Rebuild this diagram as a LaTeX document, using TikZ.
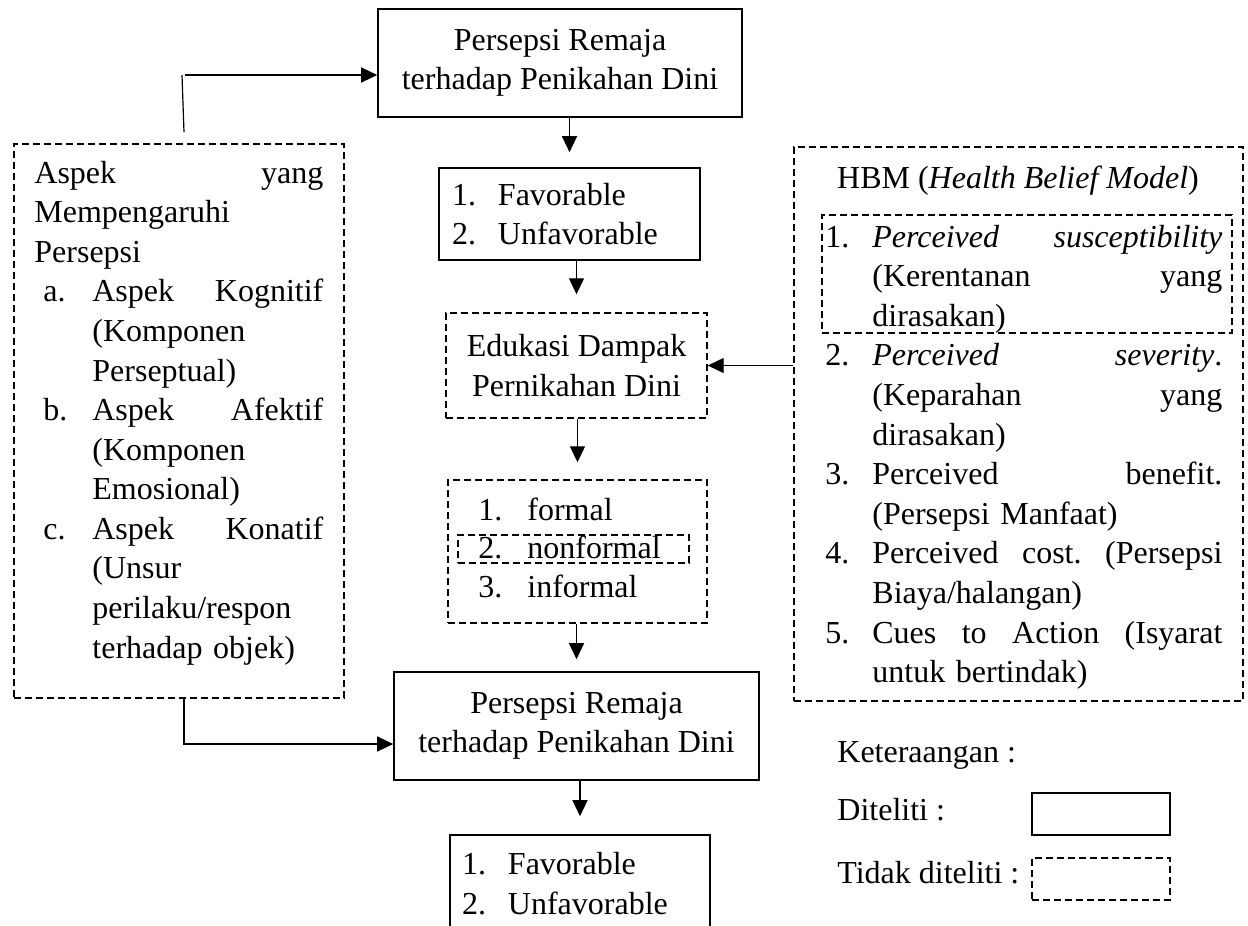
\documentclass[tikz,border=0pt]{standalone}
\usepackage{fontspec}
\setmainfont{Liberation Serif}
\usetikzlibrary{positioning,arrows.meta}

\newcommand{\butir}[2][24.5pt]{\makebox[#1][l]{#2}}
\newcommand{\lanjut}[1][24.5pt]{\hspace*{#1}}

\begin{document}
\begin{tikzpicture}[x=0.5pt,y=-0.5pt,
    font=\fontsize{16}{19.8}\selectfont,
    kotak/.style={draw,line width=0.8pt,inner sep=0pt},
    kotakputus/.style={draw,line width=0.7pt,dash pattern=on 3.5pt off 2pt,inner sep=0pt},
    teks/.style={inner sep=0pt,align=left},
    panah/.style={line width=0.6pt,-{Triangle[length=8pt,width=7.5pt]}}]
    \useasboundingbox (0,0) rectangle (1248,926);
    \clip (0,0) rectangle (1248,926);
    %middle column
    \node[kotak,minimum width=182pt,minimum height=54pt,align=center] (persepsiA) at (560,63) {Persepsi Remaja\\terhadap Penikahan Dini};
    \node[kotak,minimum width=130.5pt,minimum height=46pt,text width=117.5pt,inner xsep=6.5pt,align=left] (favA) at (569.5,214) {\butir[23pt]{1.}Favorable\\\butir[23pt]{2.}Unfavorable};
    \node[kotakputus,minimum width=130.5pt,minimum height=52.5pt,align=center] (edukasi) at (576.5,365.5) {Edukasi Dampak\\Pernikahan Dini};
    \node[kotakputus,minimum width=129.5pt,minimum height=71.5pt] (jalur) at (577.5,551.5) {};
    \node[teks,anchor=base west] (formal) at (478,520) {\butir{1.}formal};
    \node[teks,anchor=base west] (nonformal) at (478,558) {\butir{2.}nonformal};
    \node[teks,anchor=base west] (informal) at (478,597) {\butir{3.}informal};
    \node[kotakputus,minimum width=115.5pt,minimum height=14pt] (kotakNonformal) at (573.5,549) {};
    \node[kotak,minimum width=182.5pt,minimum height=54pt,align=center] (persepsiB) at (576.5,726) {Persepsi Remaja\\terhadap Penikahan Dini};
    \node[kotak,minimum width=130pt,minimum height=48.75pt,text width=118pt,inner xsep=6pt,align=left] (favB) at (580,883.75) {\butir[23pt]{1.}Favorable\\\butir[23pt]{2.}Unfavorable};
    %left column
    \node[kotakputus,minimum width=165pt,minimum height=277pt] (aspek) at (179,421) {};
    \node[teks,text width=144.5pt,anchor=base west] (aspekTeks) at (34,183) {Aspek\hfill yang\\
        Mempengaruhi\\
        Persepsi\\
        \hspace*{4.5pt}\butir{a.}Aspek\hfill Kognitif\\
        \lanjut[29pt](Komponen\\
        \lanjut[29pt]Perseptual)\\
        \hspace*{4.5pt}\butir{b.}Aspek\hfill Afektif\\
        \lanjut[29pt](Komponen\\
        \lanjut[29pt]Emosional)\\
        \hspace*{4.5pt}\butir{c.}Aspek\hfill Konatif\\
        \lanjut[29pt](Unsur\\
        \lanjut[29pt]perilaku/respon\\
        \lanjut[29pt]terhadap objek)};
    %right column
    \node[kotakputus,minimum width=224.5pt,minimum height=277pt] (hbm) at (1018.5,424) {};
    \node[teks,anchor=base] (hbmJudul) at (1018,188) {HBM (\textit{Health Belief Model})};
    \node[kotakputus,minimum width=205pt,minimum height=59pt] (kotakRentan) at (1027,274) {};
    \node[teks,text width=198.5pt,anchor=base west] (hbmTeks) at (825,247) {\butir[23.5pt]{1.}\textit{Perceived}\hfill\textit{susceptibility}\\
        \lanjut[23.5pt](Kerentanan\hfill yang\\
        \lanjut[23.5pt]dirasakan)\\
        \butir[23.5pt]{2.}\textit{Perceived}\hfill\textit{severity}.\\
        \lanjut[23.5pt](Keparahan\hfill yang\\
        \lanjut[23.5pt]dirasakan)\\
        \butir[23.5pt]{3.}Perceived\hfill benefit.\\
        \lanjut[23.5pt](Persepsi Manfaat)\\
        \butir[23.5pt]{4.}Perceived\hfill cost.\hfill (Persepsi\\
        \lanjut[23.5pt]Biaya/halangan)\\
        \butir[23.5pt]{5.}Cues\hfill to\hfill Action\hfill (Isyarat\\
        \lanjut[23.5pt]untuk bertindak)};
    %legend
    \node[teks,anchor=base west] (ket) at (837,762) {Keteraangan :};
    \node[teks,anchor=base west] (diteliti) at (837,820) {Diteliti :};
    \node[teks,anchor=base west] (tidak) at (837,883) {Tidak diteliti :};
    \node[kotak,minimum width=69pt,minimum height=21pt] (legDiteliti) at (1101,814) {};
    \node[kotakputus,minimum width=69pt,minimum height=21pt] (legTidak) at (1101,879) {};
    %draw arrows
    \draw[panah,shorten >=7.5pt] (favA.north |- persepsiA.south) -- (favA.north);
    \draw[panah,shorten >=9pt] (edukasi.north |- favA.south) -- (edukasi.north);
    \draw[panah,shorten >=8.5pt] (jalur.north |- edukasi.south) -- (jalur.north);
    \draw[panah,shorten >=6pt] (persepsiB.north |- jalur.south) -- (persepsiB.north);
    \draw[panah,shorten >=9pt] (favB.north |- persepsiB.south) -- (favB.north);
    \draw[panah] (hbm.west |- edukasi.east) -- (edukasi.east);
    \coordinate (kiriAtas) at (184,132);
    \coordinate (belokAtas) at (182,75);
    \draw[line width=0.6pt] (kiriAtas) -- (belokAtas);
    \draw[panah] (belokAtas) ++(3,0) -- (belokAtas -| persepsiA.west);
    \coordinate (kiriBawah) at (184,698);
    \coordinate (belokBawah) at (184,744);
    \draw[panah] (kiriBawah) -- (belokBawah) -- (belokBawah -| persepsiB.west);
\end{tikzpicture}
\end{document}
